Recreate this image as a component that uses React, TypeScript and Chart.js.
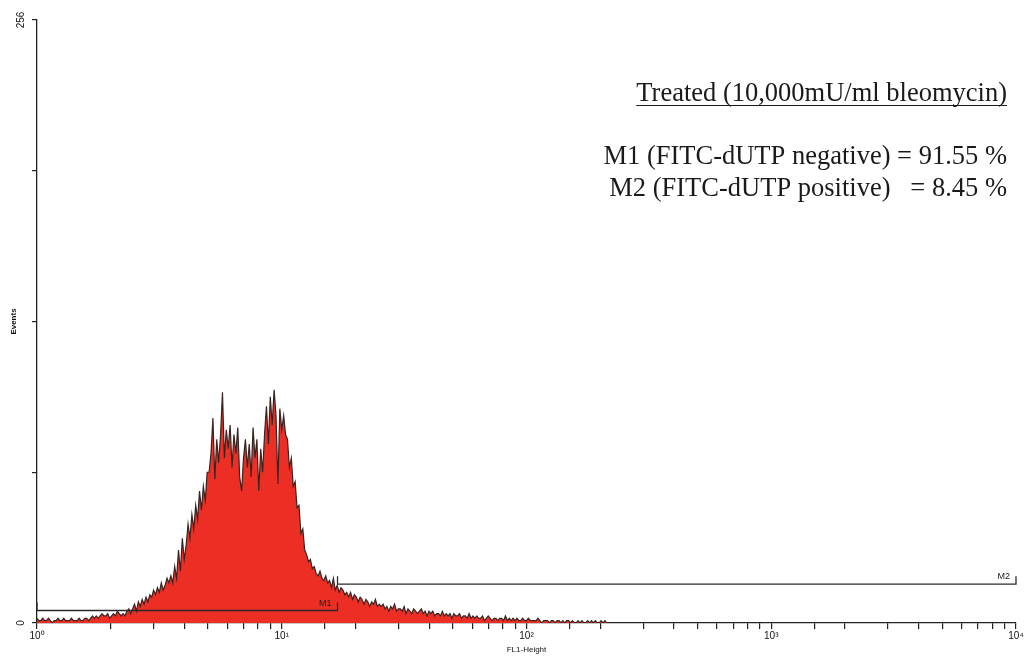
import React, { useEffect, useRef } from 'react';
import Chart from 'chart.js/auto';

// histogram: 1024 log channels over 4 decades, sampled every 2 channels (ch 0..600)
const CHANNEL_STEP = 2;
const CHANNELS_PER_DECADE = 256;

const eventCounts = [
  2, 1, 1, 2, 1, 1, 2, 1, 0, 1,
  1, 2, 1, 1, 2, 1, 1, 1, 2, 1,
  1, 1, 2, 1, 1, 2, 2, 1, 2, 3,
  2, 3, 2, 3, 4, 3, 3, 4, 2, 3,
  4, 3, 5, 4, 3, 4, 3, 5, 6, 4,
  6, 8, 5, 9, 7, 10, 8, 11, 9, 12,
  11, 14, 12, 15, 13, 17, 14, 16, 19, 17,
  20, 17, 24, 19, 31, 22, 36, 27, 33, 42,
  36, 46, 40, 50, 44, 56, 48, 58, 52, 64,
  64, 72, 87, 61, 78, 68, 80, 98, 70, 82,
  74, 84, 66, 80, 72, 83, 62, 56, 70, 78,
  66, 76, 62, 83, 70, 78, 56, 74, 64, 80,
  92, 76, 96, 84, 99, 88, 59, 91, 82, 88,
  80, 78, 66, 70, 58, 60, 49, 50, 38, 40,
  31, 29, 26, 27, 23, 24, 21, 20, 22, 19,
  18, 20, 17, 18, 15, 19, 14, 16, 13, 15,
  14, 12, 13, 11, 13, 10, 12, 11, 9, 11,
  10, 8, 10, 9, 7, 9, 8, 10, 7, 8,
  7, 8, 6, 7, 5, 7, 6, 8, 5, 6,
  6, 5, 7, 4, 6, 5, 4, 6, 5, 4,
  5, 6, 4, 5, 3, 5, 4, 5, 3, 4,
  4, 3, 5, 3, 4, 3, 4, 2, 4, 3,
  3, 4, 2, 3, 3, 2, 4, 2, 3, 2,
  3, 2, 2, 3, 1, 2, 3, 2, 1, 2,
  2, 1, 2, 2, 1, 3, 1, 2, 1, 2,
  1, 2, 1, 1, 2, 1, 1, 2, 1, 1,
  1, 1, 2, 1, 0, 1, 1, 1, 0, 1,
  1, 0, 1, 1, 0, 1, 0, 1, 1, 0,
  1, 0, 0, 1, 0, 1, 0, 0, 1, 0,
  1, 0, 1, 0, 0, 1, 0, 1, 0, 0,
  0,
];

const decadeLabels = ['10⁰', '10¹', '10²', '10³', '10⁴'];
const yLabelledTicks = [0, 256];

// markers (FL1 range and drawn level in events)
const markerNames = ['M1', 'M2'];
const markerFrom = [1, 16.9];
const markerTo = [16.9, 10000];
const markerLevel = [5.3, 16.5];

const headline = 'Treated (10,000mU/ml bleomycin)';
const statLines = ['M1 (FITC-dUTP negative) = 91.55 %', 'M2 (FITC-dUTP positive)   = 8.45 %'];

const overlayPlugin = {
  id: 'overlay',
  afterDatasetsDraw(chart: any) {
    const { ctx, scales } = chart;
    const xs = scales.x;
    const ys = scales.y;
    ctx.save();
    ctx.strokeStyle = '#2a2a2a';
    ctx.lineWidth = 1.3;
    ctx.fillStyle = '#222';
    ctx.font = '9px "Liberation Sans"';
    markerNames.forEach((name, i) => {
      const x0 = xs.getPixelForValue(markerFrom[i]);
      const x1 = xs.getPixelForValue(markerTo[i]);
      const yy = ys.getPixelForValue(markerLevel[i]);
      ctx.beginPath();
      ctx.moveTo(x0, yy - 8);
      ctx.lineTo(x0, yy);
      ctx.lineTo(x1, yy);
      ctx.lineTo(x1, yy - 8);
      ctx.stroke();
      ctx.textAlign = 'right';
      ctx.textBaseline = 'bottom';
      ctx.fillText(name, x1 - 6, yy - 3);
    });

    ctx.fillStyle = '#1a1a1a';
    ctx.textAlign = 'right';
    ctx.textBaseline = 'alphabetic';
    ctx.font = '26.5px "Liberation Serif"';
    const right = 1007;
    ctx.fillText(headline, right, 101);
    const w = ctx.measureText(headline).width;
    ctx.lineWidth = 1.2;
    ctx.strokeStyle = '#1a1a1a';
    ctx.beginPath();
    ctx.moveTo(right - w, 105.5);
    ctx.lineTo(right, 105.5);
    ctx.stroke();
    ctx.fillText(statLines[0], right, 164);
    ctx.fillText(statLines[1], right, 196);
    ctx.restore();
  },
};

export default function App() {
  const canvasRef = useRef<HTMLCanvasElement>(null);
  const chartRef = useRef<Chart | null>(null);

  useEffect(() => {
    if (!canvasRef.current) return;
    if (chartRef.current) chartRef.current.destroy();

    const points = eventCounts.map((c, i) => ({
      x: Math.pow(10, (i * CHANNEL_STEP) / CHANNELS_PER_DECADE),
      y: c,
    }));

    chartRef.current = new Chart(canvasRef.current, {
      type: 'line',
      data: {
        datasets: [
          {
            label: 'Events',
            data: points,
            borderColor: '#3a2422',
            borderWidth: 1.2,
            backgroundColor: 'rgb(236, 46, 36)',
            fill: 'origin',
            pointRadius: 0,
            tension: 0,
          },
        ],
      },
      options: {
        responsive: true,
        maintainAspectRatio: false,
        animation: false,
        layout: { padding: { left: 0, right: 13, top: 20, bottom: 0 } },
        plugins: {
          legend: { display: false },
          tooltip: { enabled: false },
        },
        scales: {
          x: {
            type: 'logarithmic',
            min: 1,
            max: 10000,
            border: { display: true, color: '#222', width: 1.3 },
            grid: { display: true, drawOnChartArea: false, drawTicks: true, tickLength: 6, color: '#222', lineWidth: 1.2 },
            ticks: {
              autoSkip: false,
              maxRotation: 0,
              minRotation: 0,
              padding: 1,
              color: '#111',
              font: { family: 'Liberation Sans', size: 10 },
              callback: (v: any) => {
                const p = Math.log10(Number(v));
                return Math.abs(p - Math.round(p)) < 1e-9 ? decadeLabels[Math.round(p)] : '';
              },
            },
            title: {
              display: true,
              text: 'FL1-Height',
              color: '#111',
              font: { family: 'Liberation Sans', size: 8 },
              padding: { top: 0, bottom: 2 },
            },
            afterFit: (s: any) => {
              s.height = 34;
            },
          },
          y: {
            type: 'linear',
            min: 0,
            max: 256,
            border: { display: true, color: '#222', width: 1.3 },
            grid: { display: true, drawOnChartArea: false, drawTicks: true, tickLength: 5, color: '#222', lineWidth: 1.2 },
            ticks: {
              stepSize: 64,
              minRotation: 90,
              maxRotation: 90,
              crossAlign: 'center',
              padding: 2,
              color: '#111',
              font: { family: 'Liberation Sans', size: 10 },
              callback: (v: any) => (yLabelledTicks.includes(Number(v)) ? String(v) : ''),
            },
            title: {
              display: true,
              text: 'Events',
              color: '#111',
              font: { family: 'Liberation Sans', size: 8, weight: 'bold' },
              padding: { top: 9, bottom: 0 },
            },
            afterFit: (s: any) => {
              s.width = 37;
            },
          },
        },
      },
      plugins: [overlayPlugin],
    });

    return () => {
      if (chartRef.current) {
        chartRef.current.destroy();
        chartRef.current = null;
      }
    };
  }, []);

  return (
    <div style={{ position: 'fixed', left: 0, top: 0, width: 1029, height: 657, background: '#fff' }}>
      <canvas ref={canvasRef}></canvas>
    </div>
  );
}
